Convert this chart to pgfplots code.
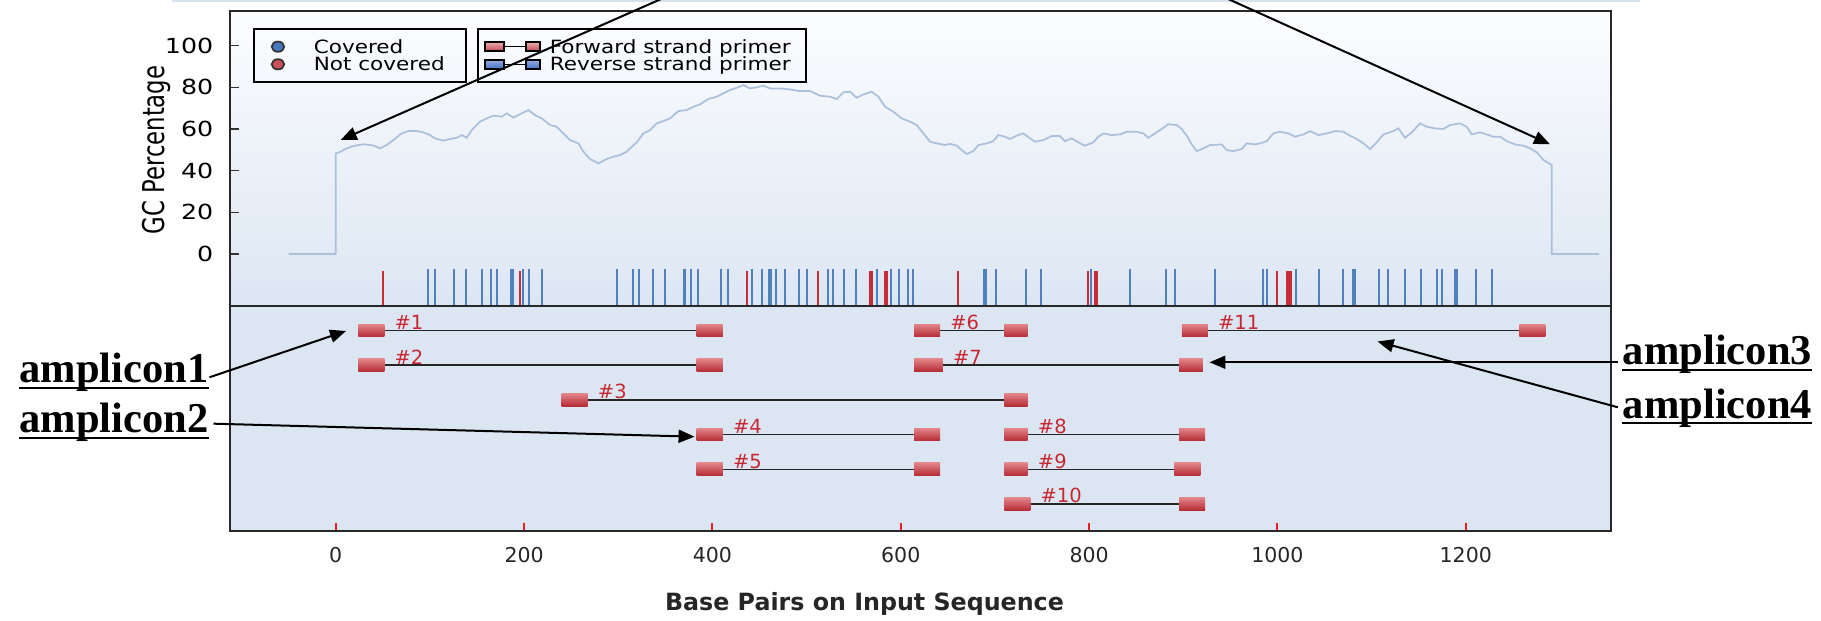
\documentclass[border=0pt]{standalone}
\usepackage{fontspec}
\setmainfont{DejaVu Sans}
\newfontfamily\ampfont{Liberation Serif}
\newfontfamily\legfont{DejaVu Sans}[FakeStretch=1.18]
\newfontfamily\ytfont{DejaVu Sans}[FakeStretch=1.22]
\newfontfamily\gcfont{DejaVu Sans}[FakeStretch=0.76]
\usepackage{pgfplots}
\pgfplotsset{compat=1.18}
\usetikzlibrary{arrows.meta}
\definecolor{covblue}{RGB}{79,129,189}
\definecolor{ncred}{RGB}{200,45,55}
\definecolor{gcline}{RGB}{172,192,220}
\definecolor{bgtop}{RGB}{252,253,255}
\definecolor{bgbot}{RGB}{220,230,243}
\definecolor{bglow}{RGB}{220,230,243}
\definecolor{framegray}{RGB}{40,40,40}
\definecolor{boxtop}{RGB}{226,132,136}
\definecolor{boxbot}{RGB}{182,42,52}
\definecolor{labred}{RGB}{200,40,50}
\definecolor{legblue}{RGB}{70,120,190}
\definecolor{legred}{RGB}{205,80,90}
\definecolor{tickred}{RGB}{235,30,30}
\definecolor{revblue}{RGB}{75,115,200}
\definecolor{topline}{RGB}{215,225,238}
\pgfplotsset{
  primbox/.style={draw=none, top color=boxtop, bottom color=boxbot, forget plot},
  ampline/.style={black!85, line width=0.6pt, forget plot},
  mylegend/.style={legend cell align=left,
    legend style={anchor=north west, draw=black, line width=0.8pt, fill=none,
    inner xsep=0pt, inner ysep=3.44pt, row sep=0pt, font=\legfont\fontsize{7.3}{8}\selectfont,
    nodes={inner xsep=0pt, inner ysep=0pt, text height=6.18pt, text depth=0.86pt}}},
}
\tikzset{
  amplab/.style={anchor=base west, xshift=3.9pt, inner sep=0pt, text=labred, font=\fontsize{7.8}{8}\selectfont},
  callout/.style={line width=0.8pt, black, -{Triangle[length=6.4pt,width=5.2pt]}},
  amptext/.style={anchor=base west, inner sep=0pt, font=\ampfont\bfseries\fontsize{17}{20}\selectfont}
}
\begin{document}
\begin{tikzpicture}
\useasboundingbox (0,0) rectangle (728.4pt,248.4pt);

%================ upper panel: GC percentage =================
\begin{axis}[
  at={(91.84pt,126.12pt)}, anchor=south west,
  width=552.44pt, height=117.88pt, scale only axis,
  xmin=-112.7, xmax=1353.9, ymin=-24.82, ymax=116.66,
  axis line style={draw=framegray, line width=0.8pt},
  axis background/.style={top color=bgtop, bottom color=bgbot},
  xtick=\empty,
  ytick={0,20,40,60,80,100}, ytick pos=left,
  major tick length=3.6pt,
  y tick style={black!80, line width=0.6pt},
  /pgf/number format/assume math mode=true,
  yticklabel style={font=\ytfont\fontsize{8.3}{10}\selectfont, xshift=-3.0pt},
  ylabel={GC Percentage},
  ylabel style={at={(axis description cs:-0.0533,0.528)}, anchor=center, font=\gcfont\fontsize{12}{13}\selectfont},
  mylegend,
  legend style={at={(0.0168,0.9413)}},
]
\addplot[gcline, line width=0.7pt, forget plot] coordinates {
(-50,0) (0,0) (0,48.3) (4.6,49) (11.6,50.7) (18.7,51.8) (29.3,52.7) (40,52.1) (47,50.7) (54.1,52.3)
(61.2,54.7) (70,57.9) (77.1,59) (86,59) (93.1,58.4) (100.1,57.1) (105.4,55.5) (114.3,54.4) (121.4,55.2)
(128.5,55.8) (133.8,57.1) (139.1,55.8) (144.4,59.5) (153.2,63.5) (160.3,65.1) (167.4,66.4) (176.2,65.9)
(181.6,67.5) (188.6,65.5) (195.7,67.1) (204.6,69.1) (211.6,66.7) (218.7,65.1) (227.6,61.9) (234.6,61.1)
(241.7,57.9) (248.8,54.7) (257.7,53.1) (263,49.1) (270,45.6) (278.9,43.5) (287.7,45.6) (294.8,46.7)
(301.9,47.5) (308.9,49.1) (312.6,50.7) (319.6,53.6) (326.7,57.9) (333.8,59.5) (340.8,62.7) (347.9,63.8)
(355,65.1) (363.8,68.6) (372.7,69.1) (379.8,70.7) (386.8,71.8) (395.7,74.4) (404.6,75.5) (411.6,77.1)
(418.7,78.7) (425.8,79.8) (432.8,81.1) (439.9,79.5) (447,80) (454.1,80.8) (461.2,79.5) (471.8,79.5)
(482.4,79) (493,78.2) (503.7,78.2) (514.3,76) (524.9,75.5) (532,74.4) (539.1,77.6) (546.1,77.9)
(553.2,75) (560.3,76.6) (569.1,77.9) (576.2,75.5) (583.3,70.7) (592.1,68.3) (601,65.1) (609.8,63.5)
(616.9,61.9) (624,57.9) (631.1,53.9) (638.2,53.1) (647,52.3) (652.3,52.9) (659.4,52) (664.7,49.9)
(670,48) (677.1,49.4) (682.4,52.3) (691.3,53.1) (698.3,54.2) (703.6,57.1) (710.7,56.3) (716,55.2)
(723.1,56.8) (730.2,57.9) (737.3,55.5) (742.6,53.9) (751.4,54.7) (760.3,56.6) (769.1,56.6) (774.4,54.2)
(781.5,55.5) (788.6,53.6) (795.7,52) (804.5,53.6) (809.8,56.3) (815.2,57.9) (824,57.1) (832.9,57.4)
(839.9,58.7) (850.6,58.7) (857.6,57.9) (862.9,55.8) (870,57.9) (877.1,60) (884.2,62.3) (893,61.9)
(898.3,60) (903.7,56.8) (909,52.6) (914.3,49.4) (921.4,50.7) (928.4,52.3) (940.8,52.6) (946.1,49.9)
(953.2,49.4) (962.1,50.4) (967.4,53.1) (976.2,52.6) (981.5,53.1) (988.6,54.2) (995.7,57.9) (1002.7,58.7)
(1011.6,57.9) (1018.7,56.3) (1027.6,57.4) (1034.6,59) (1043.5,57.1) (1052.3,57.9) (1061.2,59) (1070,58.7)
(1077.1,56.8) (1084.2,55.2) (1091.3,53.1) (1098.3,50.4) (1105.4,53.6) (1112.5,57.4) (1123.1,59) (1128.4,60.3)
(1135.5,55.8) (1142.6,58.4) (1151.4,62.7) (1158.5,61.1) (1167.4,60.3) (1176.2,60) (1183.3,61.9) (1193.9,62.7)
(1201,61.1) (1206.3,57.4) (1215.2,58.4) (1222.2,57.4) (1229.3,56.3) (1236.4,56.3) (1243.5,54.2) (1252.3,52.6)
(1261.2,52) (1268.3,50.7) (1275.4,48.8) (1282.5,45.1) (1291.3,42.7) (1291.3,0) (1341.5,0)
};
% covered primer positions (blue)
\addplot[only marks, mark=|, mark size=7.4pt, mark options={line width=0.8pt, draw=covblue}, forget plot] coordinates {
(97.7,-15.94) (105.4,-15.94) (125.6,-15.94) (138.0,-15.94) (155.7,-15.94) (165.3,-15.94) (170.9,-15.94)
(186.2,-15.94) (188.4,-15.94) (199.2,-15.94) (205.6,-15.94) (218.7,-15.94) (299.1,-15.94) (316.1,-15.94)
(322.4,-15.94) (336.6,-15.94) (349.3,-15.94) (369.5,-15.94) (371.3,-15.94) (376.9,-15.94) (384.7,-15.94)
(409.2,-15.94) (416.9,-15.94) (442.4,-15.94) (452.3,-15.94) (459.8,-15.94) (461.9,-15.94) (467.2,-15.94)
(477.1,-15.94) (492.3,-15.94) (500.1,-15.94) (522.4,-15.94) (527.7,-15.94) (540.1,-15.94) (552.5,-15.94)
(575.2,-15.94) (590.0,-15.94) (597.8,-15.94) (607.4,-15.94) (612.7,-15.94) (688.8,-15.94) (690.9,-15.94)
(700.8,-15.94) (733.4,-15.94) (748.6,-15.94) (801.7,-15.94) (843.8,-15.94) (881.7,-15.94) (891.6,-15.94)
(934.1,-15.94) (984.4,-15.94) (989.3,-15.94) (1019.7,-15.94) (1044.5,-15.94) (1070.0,-15.94) (1079.9,-15.94)
(1082.1,-15.94) (1107.5,-15.94) (1117.5,-15.94) (1135.2,-15.94) (1152.5,-15.94) (1169.8,-15.94) (1175.1,-15.94)
(1188.3,-15.94) (1190.4,-15.94) (1210.9,-15.94) (1228.2,-15.94)
};
% not covered primer positions (red)
\addplot[only marks, mark=|, mark size=6.93pt, mark options={line width=0.8pt, draw=ncred}, forget plot] coordinates {
(50.6,-16.51) (196.1,-16.51) (437.1,-16.51) (512.5,-16.51) (567.7,-16.51) (569.9,-16.51) (583.3,-16.51)
(585.1,-16.51) (660.8,-16.51) (799.2,-16.51) (806.3,-16.51) (808.4,-16.51) (999.2,-16.51) (1009.8,-16.51)
(1012.3,-16.51) (1014.8,-16.51)
};
\addlegendimage{legend image code/.code={\path[draw=none,fill=none] (0pt,0pt) -- (24pt,0pt); \draw[line width=0.7pt, draw=black!80, fill=legblue] (9.66pt,0pt) ellipse [x radius=2.5pt, y radius=2.05pt];}}
\addlegendentry{Covered}
\addlegendimage{legend image code/.code={\path[draw=none,fill=none] (0pt,0pt) -- (24pt,0pt); \draw[line width=0.7pt, draw=black!80, fill=legred] (9.66pt,0pt) ellipse [x radius=2.5pt, y radius=2.05pt];}}
\addlegendentry{Not covered\hspace*{8.6pt}}
\end{axis}

%================ lower panel: amplicons =================
\begin{axis}[
  at={(91.84pt,36pt)}, anchor=south west,
  width=552.44pt, height=90.12pt, scale only axis,
  xmin=-112.7, xmax=1353.9, ymin=-6.778, ymax=-0.285,
  axis line style={draw=framegray, line width=0.8pt},
  axis background/.style={fill=bglow},
  ytick=\empty,
  xtick={0,200,400,600,800,1000,1200}, xtick pos=left,
  major tick length=3.2pt,
  x tick style={tickred, line width=0.8pt},
  /pgf/number format/assume math mode=true,
  /pgf/number format/1000 sep={},
  xticklabel style={font=\fontsize{8.2}{10}\selectfont, text=black!85, yshift=-2.8pt},
  xlabel={Base Pairs on Input Sequence},
  xlabel style={at={(axis description cs:0.4597,-0.324)}, anchor=center, font=\bfseries\fontsize{9.5}{11}\selectfont, text=black!85},
  mylegend,
  legend style={at={(0.1790,2.2312)}},
]
% amplicon connecting lines
\addplot[ampline] coordinates {(51.6,-1) (383.3,-1)};
\addplot[ampline] coordinates {(51.6,-2) (383.3,-2)};
\addplot[ampline] coordinates {(267.6,-3) (710.0,-3)};
\addplot[ampline] coordinates {(411.0,-4) (614.1,-4)};
\addplot[ampline] coordinates {(411.0,-5) (614.1,-5)};
\addplot[ampline] coordinates {(641.7,-1) (710.0,-1)};
\addplot[ampline] coordinates {(644.6,-2) (895.5,-2)};
\addplot[ampline] coordinates {(734.8,-4) (895.5,-4)};
\addplot[ampline] coordinates {(734.8,-5) (890.5,-5)};
\addplot[ampline] coordinates {(737.6,-6) (895.5,-6)};
\addplot[ampline] coordinates {(926.0,-1) (1256.9,-1)};
% primer boxes
\addplot[primbox] coordinates {(24.0,-1.1825) (51.6,-1.1825) (51.6,-0.8175) (24.0,-0.8175)};
\addplot[primbox] coordinates {(383.3,-1.1825) (411.0,-1.1825) (411.0,-0.8175) (383.3,-0.8175)};
\addplot[primbox] coordinates {(24.0,-2.1825) (51.6,-2.1825) (51.6,-1.8175) (24.0,-1.8175)};
\addplot[primbox] coordinates {(383.3,-2.1825) (411.0,-2.1825) (411.0,-1.8175) (383.3,-1.8175)};
\addplot[primbox] coordinates {(240.0,-3.1825) (267.6,-3.1825) (267.6,-2.8175) (240.0,-2.8175)};
\addplot[primbox] coordinates {(710.0,-3.1825) (734.8,-3.1825) (734.8,-2.8175) (710.0,-2.8175)};
\addplot[primbox] coordinates {(383.3,-4.1825) (411.0,-4.1825) (411.0,-3.8175) (383.3,-3.8175)};
\addplot[primbox] coordinates {(614.1,-4.1825) (641.7,-4.1825) (641.7,-3.8175) (614.1,-3.8175)};
\addplot[primbox] coordinates {(383.3,-5.1825) (411.0,-5.1825) (411.0,-4.8175) (383.3,-4.8175)};
\addplot[primbox] coordinates {(614.1,-5.1825) (641.7,-5.1825) (641.7,-4.8175) (614.1,-4.8175)};
\addplot[primbox] coordinates {(614.1,-1.1825) (641.7,-1.1825) (641.7,-0.8175) (614.1,-0.8175)};
\addplot[primbox] coordinates {(710.0,-1.1825) (734.8,-1.1825) (734.8,-0.8175) (710.0,-0.8175)};
\addplot[primbox] coordinates {(614.1,-2.1825) (644.6,-2.1825) (644.6,-1.8175) (614.1,-1.8175)};
\addplot[primbox] coordinates {(895.5,-2.1825) (920.7,-2.1825) (920.7,-1.8175) (895.5,-1.8175)};
\addplot[primbox] coordinates {(710.0,-4.1825) (734.8,-4.1825) (734.8,-3.8175) (710.0,-3.8175)};
\addplot[primbox] coordinates {(895.5,-4.1825) (923.1,-4.1825) (923.1,-3.8175) (895.5,-3.8175)};
\addplot[primbox] coordinates {(710.0,-5.1825) (734.8,-5.1825) (734.8,-4.8175) (710.0,-4.8175)};
\addplot[primbox] coordinates {(890.5,-5.1825) (918.1,-5.1825) (918.1,-4.8175) (890.5,-4.8175)};
\addplot[primbox] coordinates {(710.0,-6.1825) (737.6,-6.1825) (737.6,-5.8175) (710.0,-5.8175)};
\addplot[primbox] coordinates {(895.5,-6.1825) (923.1,-6.1825) (923.1,-5.8175) (895.5,-5.8175)};
\addplot[primbox] coordinates {(898.4,-1.1825) (926.0,-1.1825) (926.0,-0.8175) (898.4,-0.8175)};
\addplot[primbox] coordinates {(1256.9,-1.1825) (1284.5,-1.1825) (1284.5,-0.8175) (1256.9,-0.8175)};
% amplicon numbers
\node[amplab] at (axis cs:51.6,-0.97) {\#1};
\node[amplab] at (axis cs:51.6,-1.97) {\#2};
\node[amplab] at (axis cs:267.6,-2.97) {\#3};
\node[amplab] at (axis cs:411.0,-3.97) {\#4};
\node[amplab] at (axis cs:411.0,-4.97) {\#5};
\node[amplab] at (axis cs:641.7,-0.97) {\#6};
\node[amplab] at (axis cs:644.6,-1.97) {\#7};
\node[amplab] at (axis cs:734.8,-3.97) {\#8};
\node[amplab] at (axis cs:734.8,-4.97) {\#9};
\node[amplab] at (axis cs:737.6,-5.97) {\#10};
\node[amplab] at (axis cs:926.0,-0.97) {\#11};
\addlegendimage{legend image code/.code={\path[draw=none,fill=none] (0pt,0pt) -- (28.8pt,0pt); \draw[line width=0.6pt, black] (10.6pt,0pt) -- (19.3pt,0pt); \fill[top color=boxtop!70!white, bottom color=boxbot!85!white] (2.96pt,-1.7pt) rectangle (10.64pt,1.7pt); \fill[top color=boxtop!70!white, bottom color=boxbot!85!white] (19.3pt,-1.7pt) rectangle (24.9pt,1.7pt);}}
\addlegendentry{Forward strand primer\hspace*{6pt}}
\addlegendimage{legend image code/.code={\path[draw=none,fill=none] (0pt,0pt) -- (28.8pt,0pt); \draw[line width=0.6pt, black] (10.6pt,0pt) -- (19.3pt,0pt); \fill[top color=revblue!60!white, bottom color=revblue] (2.96pt,-1.7pt) rectangle (10.64pt,1.7pt); \fill[top color=revblue!60!white, bottom color=revblue] (19.3pt,-1.7pt) rectangle (24.9pt,1.7pt);}}
\addlegendentry{Reverse strand primer}
\end{axis}

%================ annotations (full-size pixel coordinates) =================
\begin{scope}[x=0.4pt, y=-0.4pt, yshift=248.4pt]
\draw[line width=0.6pt, draw=topline] (172,1) -- (1640,1);
\draw[callout] (668,-4) -- (340.7,140);
\draw[callout] (1221.5,-4) -- (1550,144.3);
\draw[callout] (209.5,377.3) -- (346,331);
\draw[callout] (213.5,423.7) -- (694.6,436.7);
\draw[callout] (1617.8,362.3) -- (1209.5,362.3);
\draw[callout] (1617.8,407.3) -- (1377.6,341.5);
\node[amptext] (a1) at (19,383) {amplicon1};
\node[amptext] (a2) at (19,433) {amplicon2};
\node[amptext] (a3) at (1622.5,365) {amplicon3};
\node[amptext] (a4) at (1622.5,418.3) {amplicon4};
\foreach \n in {a1,a2,a3,a4}{
  \draw[line width=0.9pt] ([yshift=-2pt]\n.base west) -- ([yshift=-2pt]\n.base east);
}
\end{scope}
\end{tikzpicture}
\end{document}
